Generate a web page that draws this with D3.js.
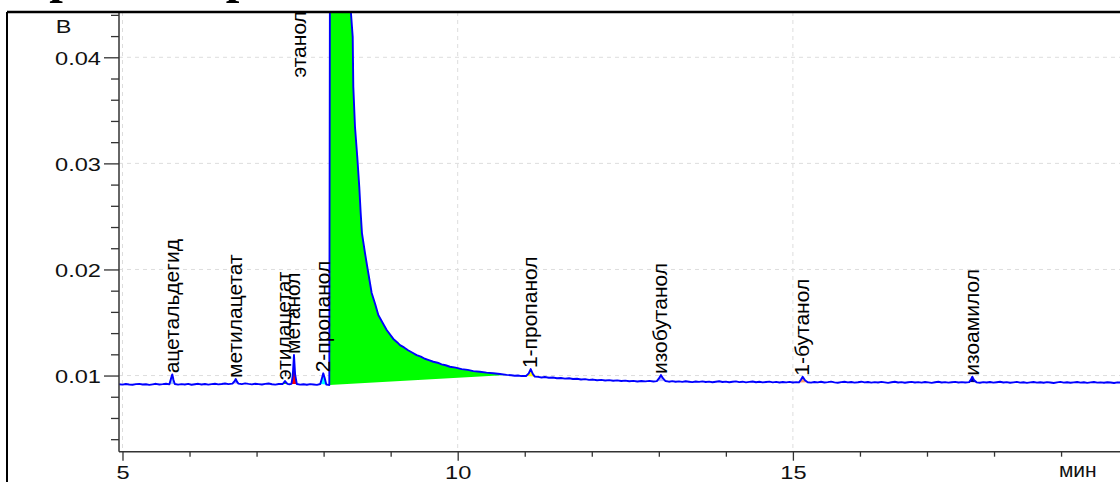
<!DOCTYPE html>
<html><head><meta charset="utf-8">
<script src="https://cdn.jsdelivr.net/npm/d3@7"></script>
<style>html,body{margin:0;padding:0;background:#fff;overflow:hidden}</style>
</head><body><svg id="c" width="1120" height="482"></svg>
<script>
// ---- data: [time, min ; signal, V] ----
const traceEarly = [
 [4.95,.00918],[5.00,.00914],[5.05,.00920],[5.10,.00916],[5.15,.00913],[5.20,.00919],[5.25,.00921],[5.30,.00915],
 [5.35,.00918],[5.40,.00912],[5.45,.00917],[5.50,.00922],[5.55,.00916],[5.60,.00919],[5.65,.00923],[5.70,.00917],
 [5.725,.00975],[5.743,.01011],[5.76,.00960],[5.78,.00920],
 [5.83,.00914],[5.88,.00919],[5.93,.00916],[5.98,.00921],[6.03,.00913],[6.08,.00918],[6.13,.00922],[6.18,.00916],
 [6.23,.00920],[6.28,.00914],[6.33,.00919],[6.38,.00923],[6.43,.00917],[6.48,.00920],[6.53,.00925],[6.58,.00919],[6.64,.00924],
 [6.675,.00950],[6.689,.00967],[6.71,.00940],[6.73,.00924],
 [6.78,.00919],[6.83,.00926],[6.88,.00921],[6.93,.00917],[6.98,.00923],[7.03,.00919],[7.08,.00915],[7.13,.00921],
 [7.18,.00925],[7.23,.00918],[7.28,.00914],[7.33,.00920],[7.39,.00920],
 [7.424,.00948],[7.46,.00922],[7.49,.00918],[7.52,.00921],[7.54,.01000],[7.558,.01193],[7.575,.01010],[7.60,.00920],
 [7.65,.00914],[7.70,.00918],[7.75,.00913],[7.80,.00919],[7.85,.00916],[7.90,.00912],[7.95,.00920],
 [7.975,.00975],[7.995,.01021],[8.015,.00980],[8.04,.00915],[8.07,.00912],[8.085,.00910]
];
const traceEthanol = [
 [8.095,.05000],[8.20,.09000],[8.35,.06000],[8.408,.04417],[8.434,.04193],[8.443,.03722],[8.468,.03345],
 [8.502,.03062],[8.532,.02779],[8.553,.02532],[8.572,.02343],[8.617,.02155],[8.667,.01966],[8.717,.01778],
 [8.77,.01672],[8.816,.01570],[8.88,.01498],[8.941,.01429],[9.04,.01345],[9.10,.01312],[9.139,.01287],[9.20,.01265],
 [9.26,.01238],[9.32,.01217],[9.388,.01193],[9.45,.01178],[9.51,.01158],[9.57,.01146],[9.636,.01130],[9.70,.01121],
 [9.76,.01105],[9.82,.01097],[9.885,.01083],[9.97,.01074],[10.06,.01060],[10.15,.01053],[10.233,.01042],[10.33,.01036],
 [10.43,.01027],[10.53,.01022],[10.631,.01014],[10.73,.01006]
];
const traceLate = [
 [10.80,.01003],[10.85,.00998],[10.90,.01000],[10.95,.00995],[11.02,.00996],
 [11.06,.01020],[11.089,.01061],[11.12,.01015],[11.15,.00990],
 [11.20,.00987],[11.25,.00982],[11.30,.00986],[11.36,.00979],[11.42,.00981],[11.48,.00975],[11.54,.00977],[11.60,.00971],
 [11.66,.00974],[11.72,.00967],[11.78,.00970],[11.84,.00963],[11.90,.00966],[11.96,.00959],[12.02,.00962],[12.08,.00956],
 [12.14,.00959],[12.20,.00953],[12.26,.00957],[12.32,.00951],[12.38,.00954],[12.44,.00948],[12.50,.00952],[12.56,.00946],
 [12.62,.00950],[12.68,.00944],[12.74,.00949],[12.80,.00945],[12.86,.00950],[12.92,.00944],[12.97,.00947],
 [13.005,.00975],[13.032,.01005],[13.06,.00975],[13.10,.00948],
 [13.15,.00942],[13.20,.00947],[13.25,.00941],[13.30,.00945],[13.35,.00940],[13.40,.00946],[13.45,.00942],[13.50,.00938],
 [13.55,.00944],[13.60,.00940],[13.65,.00945],[13.70,.00939],[13.75,.00943],[13.80,.00937],[13.85,.00942],[13.90,.00946],
 [13.95,.00939],[14.00,.00943],[14.05,.00937],[14.10,.00941],[14.15,.00945],[14.20,.00938],[14.25,.00942],[14.30,.00936],
 [14.35,.00940],[14.40,.00944],[14.45,.00937],[14.50,.00941],[14.55,.00935],[14.60,.00939],[14.65,.00943],[14.70,.00936],
 [14.75,.00940],[14.80,.00934],[14.85,.00939],[14.90,.00935],[14.95,.00940],[15.00,.00934],[15.05,.00938],[15.09,.00935],
 [15.12,.00960],[15.146,.00989],[15.18,.00955],[15.22,.00937],
 [15.27,.00933],[15.32,.00939],[15.37,.00935],[15.42,.00941],[15.47,.00934],[15.52,.00938],[15.57,.00943],[15.62,.00936],
 [15.67,.00932],[15.72,.00938],[15.77,.00941],[15.82,.00935],[15.87,.00939],[15.92,.00933],[15.97,.00937],[16.02,.00942],
 [16.07,.00935],[16.12,.00939],[16.17,.00933],[16.22,.00938],[16.27,.00934],[16.32,.00940],[16.37,.00936],[16.42,.00931],
 [16.47,.00937],[16.52,.00941],[16.57,.00934],[16.62,.00938],[16.67,.00932],[16.72,.00937],[16.77,.00940],[16.82,.00934],
 [16.87,.00938],[16.92,.00933],[16.97,.00939],[17.02,.00935],[17.07,.00931],[17.12,.00937],[17.17,.00941],[17.22,.00934],
 [17.27,.00938],[17.32,.00933],[17.37,.00937],[17.42,.00940],[17.47,.00934],[17.52,.00938],[17.57,.00935],[17.63,.00938],
 [17.655,.00962],[17.676,.00989],[17.70,.00958],[17.74,.00936],
 [17.79,.00932],[17.84,.00938],[17.89,.00934],[17.94,.00939],[17.99,.00933],[18.04,.00937],[18.09,.00941],[18.14,.00934],
 [18.19,.00938],[18.24,.00932],[18.29,.00936],[18.34,.00940],[18.39,.00933],[18.44,.00937],[18.49,.00931],[18.54,.00936],
 [18.59,.00939],[18.64,.00933],[18.69,.00937],[18.74,.00932],[18.79,.00938],[18.84,.00934],[18.89,.00930],[18.94,.00936],
 [18.99,.00940],[19.04,.00933],[19.09,.00937],[19.14,.00932],[19.19,.00936],[19.24,.00939],[19.29,.00933],[19.34,.00937],
 [19.39,.00931],[19.44,.00935],[19.49,.00939],[19.54,.00933],[19.59,.00936],[19.64,.00932],[19.69,.00937],[19.74,.00934],
 [19.79,.00930],[19.84,.00936],[19.90,.00933]
];
const peakNames = ["ацетальдегид","метилацетат","этилацетат","метанол","2-пропанол","этанол","1-пропанол","изобутанол","1-бутанол","изоамилол"];
const peakStart = [5.70,6.64,7.39,7.52,7.95,8.085,11.02,12.97,15.09,17.63];
const peakEnd   = [5.78,6.73,7.46,7.60,8.04,10.73,11.15,13.10,15.22,17.74];
// label anchor for an off-scale peak (time, value); null = use the apex
const peakLabelTime  = [null,null,null,null,null,7.636,null,null,null,null];
const peakLabelValue = [null,null,null,null,null,0.0380,null,null,null,null];
const yMajorTicks = [0.01,0.02,0.03,0.04];
const yMinorTicks = [0.004,0.006,0.008,0.012,0.014,0.016,0.018,0.022,0.024,0.026,0.028,0.032,0.034,0.036,0.038,0.042,0.044];
const xMajorTicks = [5,10,15];
const xMinorTicks = [6,7,8,9,11,12,13,14,16,17,18,19];
const yUnit = "В", xUnit = "мин", titleText = "Хроматограмма";

// ---- styles ----
const peakColors = ["#9fc8ff","#a0a0ff","#00c000","#ff0000","#00ffff","#00ff00","#ffff00","#b8b8ff","#ff9a66","#000080"];
const W = 1120, H = 482;
const L = 119, T = 12, R = 1120, B = 451.7;
const svg = d3.select("#c");

const x = d3.scaleLinear().domain([4.948, 19.879]).range([L, R]);
const y = d3.scaleLinear().domain([0.00282, 0.04427]).range([B, T]);

// title: cropped above the frame, only the feet of its descenders show
const title = svg.append("text").attr("x", 0).attr("y", -7.5)
  .attr("font-family", "'Liberation Serif','Times New Roman',serif")
  .attr("font-weight", "bold").attr("font-size", 46).attr("fill", "#000")
  .text(titleText);
(function fitTitle() {
  const n = title.node();
  const d = n.getStartPositionOfChar(8).x - n.getStartPositionOfChar(1).x;
  const fs = 46 * 176.5 / d;
  title.attr("font-size", fs);
  const s1 = n.getStartPositionOfChar(1).x;
  title.attr("x", 59 - 0.2 * fs - s1);
})();

// grid
const grid = svg.append("g").attr("stroke", "#dddddd").attr("stroke-width", 1).attr("stroke-dasharray", "4,4");
grid.selectAll("line.h").data(yMajorTicks).join("line")
  .attr("x1", L).attr("x2", R).attr("y1", d => y(d)).attr("y2", d => y(d));
grid.selectAll("line.v").data(xMajorTicks).join("line")
  .attr("y1", T).attr("y2", B).attr("x1", d => x(d)).attr("x2", d => x(d));

// clip
svg.append("clipPath").attr("id", "clip").append("rect")
  .attr("x", L).attr("y", T).attr("width", R - L).attr("height", B - T);
const plot = svg.append("g").attr("clip-path", "url(#clip)");

const pts = traceEarly.concat(traceEthanol, traceLate);
const line = d3.line().x(d => x(d[0])).y(d => y(d[1]));
const segOf = i => pts.filter(p => p[0] >= peakStart[i] - 1e-9 && p[0] <= peakEnd[i] + 1e-9);

// peak fills (trace between start and end, closed by a straight baseline)
peakNames.forEach((name, i) => {
  plot.append("path").attr("d", line(segOf(i)) + "Z")
    .attr("fill", peakColors[i]).attr("stroke", "none");
});

// trace
plot.append("path").attr("d", line(pts))
  .attr("fill", "none").attr("stroke", "#0000ff").attr("stroke-width", 1.9)
  .attr("stroke-linejoin", "round");

// peak labels
peakNames.forEach((name, i) => {
  const apex = segOf(i).reduce((a, b) => (b[1] > a[1] ? b : a));
  const lt = peakLabelTime[i] != null ? peakLabelTime[i] : apex[0];
  const lv = peakLabelValue[i] != null ? peakLabelValue[i] : apex[1];
  svg.append("text")
    .attr("transform", `translate(${x(lt)},${y(lv) - 1}) rotate(-90)`)
    .attr("dy", "0.3em")
    .attr("font-family", "'Liberation Sans',Arial,sans-serif").attr("font-size", 21)
    .attr("fill", "#000").attr("text-anchor", "start")
    .text(name);
});

// axes
const axisColor = "#333";
function styleAxis(g) {
  g.select(".domain").remove();
  g.selectAll(".tick line").attr("stroke", axisColor).attr("stroke-width", 1.3);
  g.selectAll(".tick text").attr("font-family", "'Liberation Sans',Arial,sans-serif")
    .attr("font-size", 18.6).attr("fill", "#111");
}
function stretch(sel, k) {
  sel.each(function () {
    const len = this.getComputedTextLength();
    d3.select(this).attr("textLength", len * k).attr("lengthAdjust", "spacingAndGlyphs");
  });
}
const yMaj = svg.append("g").attr("transform", `translate(${L},0)`)
  .call(d3.axisLeft(y).tickValues(yMajorTicks).tickSize(15).tickPadding(3).tickFormat(d3.format(".2f")));
styleAxis(yMaj);
yMaj.selectAll(".tick text").attr("dy", "0.39em");
stretch(yMaj.selectAll(".tick text"), 1.27);
const yMin = svg.append("g").attr("transform", `translate(${L},0)`)
  .call(d3.axisLeft(y).tickValues(yMinorTicks).tickSize(8).tickFormat(""));
styleAxis(yMin);

const xMaj = svg.append("g").attr("transform", `translate(0,${B})`)
  .call(d3.axisBottom(x).tickValues(xMajorTicks).tickSize(9).tickFormat(d3.format("d")));
styleAxis(xMaj);
xMaj.selectAll(".tick text").attr("y", 27.8).attr("dy", 0);
stretch(xMaj.selectAll(".tick text"), 1.27);
const xMin = svg.append("g").attr("transform", `translate(0,${B})`)
  .call(d3.axisBottom(x).tickValues(xMinorTicks).tickSize(5).tickFormat(""));
styleAxis(xMin);

// axis lines
svg.append("line").attr("x1", L).attr("x2", L).attr("y1", T).attr("y2", B)
  .attr("stroke", axisColor).attr("stroke-width", 1.5);
svg.append("line").attr("x1", L).attr("x2", R).attr("y1", B).attr("y2", B)
  .attr("stroke", axisColor).attr("stroke-width", 1.5);

// unit labels
const yu = svg.append("text").attr("x", 63.7).attr("y", 33.3).attr("text-anchor", "middle")
  .attr("font-family", "'Liberation Sans',Arial,sans-serif").attr("font-size", 18)
  .attr("fill", "#111").text(yUnit);
stretch(yu, 1.3);
svg.append("text").attr("x", 1077.8).attr("y", 476.7).attr("text-anchor", "middle")
  .attr("font-family", "'Liberation Sans',Arial,sans-serif").attr("font-size", 21)
  .attr("fill", "#111").text(xUnit);

// outer frame
svg.append("line").attr("x1", 7).attr("x2", W).attr("y1", 12).attr("y2", 12)
  .attr("stroke", "#000").attr("stroke-width", 2.3);
svg.append("line").attr("x1", 7).attr("x2", 7).attr("y1", 12).attr("y2", H)
  .attr("stroke", "#000").attr("stroke-width", 2);
</script></body></html>
